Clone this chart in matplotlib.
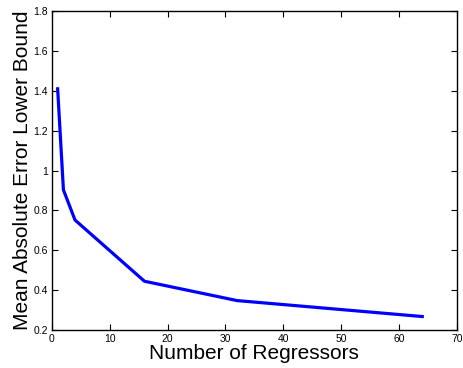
import matplotlib
matplotlib.use("Agg")
import matplotlib.pyplot as plt

# values
regressors = [1, 2, 4, 16, 32, 64]
mae_bound = [1.41, 0.903, 0.752, 0.445, 0.348, 0.268]

plt.rcParams['font.family'] = ['Liberation Sans', 'DejaVu Sans']

fig = plt.figure(figsize=(4.63, 3.68), dpi=100)
ax = fig.add_axes([0.112, 0.103, 0.875, 0.867])

ax.plot(regressors, mae_bound, color='#0000ff', linewidth=2.3)

ax.set_xlim(0, 70)
ax.set_ylim(0.2, 1.8)
ax.set_xticks(range(0, 71, 10))
ax.set_yticks([0.2, 0.4, 0.6, 0.8, 1.0, 1.2, 1.4, 1.6, 1.8])
ax.set_yticklabels(['0.2', '0.4', '0.6', '0.8', '1', '1.2', '1.4', '1.6', '1.8'])
ax.tick_params(direction='in', top=True, right=True, labelsize=7.5, length=4, pad=3)
for s in ax.spines.values():
    s.set_linewidth(1.0)

ax.set_xlabel("Number of Regressors", fontsize=15, labelpad=0)
ax.set_ylabel("Mean Absolute Error Lower Bound", fontsize=15, labelpad=1)

fig.savefig("out.png", dpi=100)
